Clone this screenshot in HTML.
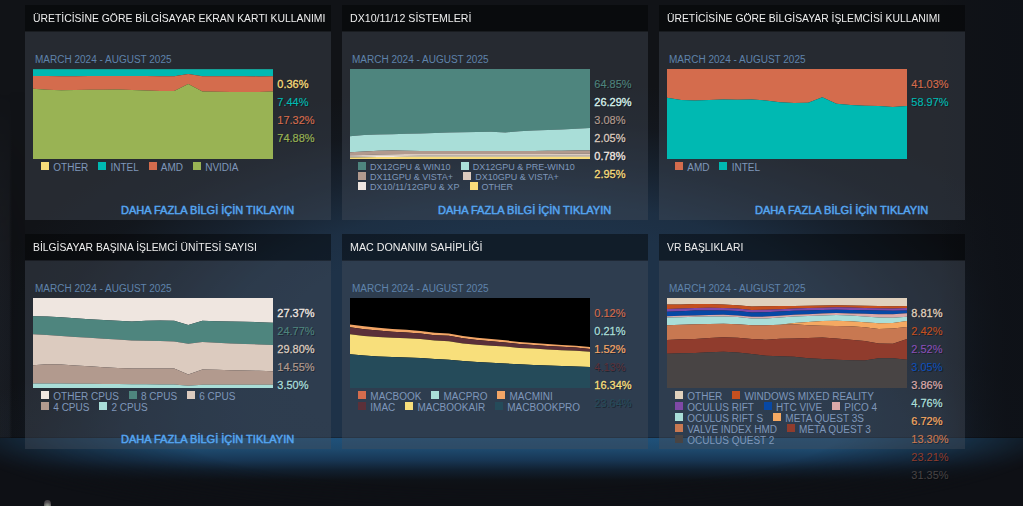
<!DOCTYPE html>
<html lang="tr"><head><meta charset="utf-8"><title>Steam Donanım ve Yazılım Anketi</title>
<style>
html,body{margin:0;padding:0;}
body{width:1023px;height:506px;overflow:hidden;position:relative;background:#0e1015;font-family:"Liberation Sans",sans-serif;}
#bg{position:absolute;left:0;top:0;width:1023px;height:438px;
 background:
  linear-gradient(to right, rgba(14,17,23,0) 940px, rgba(14,17,23,0.55) 972px, rgba(14,17,23,0.9) 1006px),
  radial-gradient(ellipse 570px 125px at 520px 442px, rgba(30,50,72,0.9) 0%, rgba(30,50,72,0.9) 45%, rgba(30,50,72,0.55) 70%, rgba(30,50,72,0.15) 86%, rgba(30,50,72,0) 100%),
  radial-gradient(ellipse 560px 270px at 530px 350px, rgba(30,50,72,1) 0%, rgba(30,50,72,1) 45%, rgba(30,50,72,0.9) 55%, rgba(29,48,70,0.5) 70%, rgba(27,44,64,0.15) 85%, rgba(17,19,23,0) 100%),
  #111317;}
.panel{position:absolute;width:306px;height:215px;}
.ttl{height:26px;background:rgba(0,0,0,0.42);position:relative;overflow:hidden;}
.ttl span{position:absolute;left:8.4px;top:6.4px;font-size:11.5px;line-height:14px;color:#eeeeee;white-space:nowrap;transform-origin:0 50%;}
.body{position:absolute;left:0;top:26px;width:306px;height:189px;background:rgba(70,78,90,0.4);box-shadow:inset 0 1px 0 rgba(0,0,0,0.33);}
.date{position:absolute;left:10px;top:22.5px;font-size:10px;line-height:12px;color:#5f83ab;white-space:nowrap;}
.ch{position:absolute;left:8px;top:38px;display:block;}
.pcts{position:absolute;left:252.3px;top:44.2px;font-size:11px;line-height:18px;text-shadow:1px 1px 0 rgba(0,0,0,0.38);white-space:nowrap;}
.lg{position:absolute;left:16px;top:131px;width:260px;}
.ll{height:11px;white-space:nowrap;display:flex;align-items:flex-start;}
.ll i{display:block;width:8px;height:8px;margin:0 4.3px 0 0;flex:none;}
.ll b{display:block;font-weight:normal;font-size:10px;line-height:11px;color:#7f97ba;margin-right:9.8px;padding-top:0;}
.f9 .ll{height:10px;}
.f9 .ll b{font-size:9px;line-height:10px;margin-right:10.2px;padding-top:0;}
.f9 .ll i{margin-right:4px;}
.more{display:block;text-decoration:none;position:absolute;left:96px;top:173px;font-size:11px;line-height:13px;color:#54a5f0;white-space:nowrap;text-shadow:0 0 1px rgba(80,160,235,0.7);-webkit-text-stroke:0.3px #54a5f0;}
#glow{position:absolute;left:0;top:438px;width:1023px;height:68px;background:#0e1015;box-shadow:0 -1px 0 rgba(0,0,0,0.22);}
#glow:before{content:"";position:absolute;left:0;top:0;width:1023px;height:68px;
 background:linear-gradient(to bottom, rgb(31,81,122) 0px, rgb(30,74,110) 11px, rgb(24,55,85) 22px, rgb(17,32,48) 32px, rgb(14,18,24) 42px, rgb(14,16,21) 48px);
 -webkit-mask-image:radial-gradient(ellipse 560px 100px at 508px -10px, #000 60%, rgba(0,0,0,0.5) 82%, rgba(0,0,0,0) 100%);
 mask-image:radial-gradient(ellipse 560px 100px at 508px -10px, #000 60%, rgba(0,0,0,0.5) 82%, rgba(0,0,0,0) 100%);}
#dot{position:absolute;left:44px;top:499.6px;width:7.4px;height:9px;border-radius:50%;background:radial-gradient(circle at 50% 70%, #9ea699 0, #7d807b 28%, #514d50 58%, #413d40 100%);}
#lstrip{position:absolute;left:0;top:0;width:25px;height:438px;
 background:linear-gradient(to right, rgba(120,130,150,0.075) 0, rgba(120,130,150,0.06) 9px, rgba(0,0,0,0.16) 12px, rgba(0,0,0,0.12) 25px);
 -webkit-mask-image:linear-gradient(to bottom, rgba(0,0,0,0) 90px, #000 250px);mask-image:linear-gradient(to bottom, rgba(0,0,0,0) 90px, #000 250px);}

</style></head>
<body>
<div id="bg"></div><div id="lstrip"></div><div id="glow"></div><div class="panel r0 c0" style="left:25px;top:5px"><div class="ttl"><span style="transform:scaleX(0.9043)">ÜRETİCİSİNE GÖRE BİLGİSAYAR EKRAN KARTI KULLANIMI</span></div><div class="body"><div class="date">MARCH 2024 - AUGUST 2025</div><svg class="ch" width="240" height="90" viewBox="0 0 240 90" preserveAspectRatio="none"><rect width="240" height="90" fill="#20232a"/><polygon fill="#f8dc7a" points="0.00,0.00 14.12,0.00 28.24,0.00 42.35,0.00 56.47,0.00 70.59,0.00 84.71,0.00 98.82,0.00 112.94,0.00 127.06,0.00 141.18,0.00 155.29,0.00 169.41,0.00 183.53,0.00 197.65,0.00 211.76,0.00 225.88,0.00 240.00,0.00 240.00,0.30 225.88,0.30 211.76,0.30 197.65,0.30 183.53,0.30 169.41,0.30 155.29,0.30 141.18,0.30 127.06,0.30 112.94,0.30 98.82,0.30 84.71,0.30 70.59,0.30 56.47,0.30 42.35,0.30 28.24,0.30 14.12,0.30 0.00,0.30"/><polygon fill="#00b9b2" points="0.00,0.30 14.12,0.30 28.24,0.30 42.35,0.30 56.47,0.30 70.59,0.30 84.71,0.30 98.82,0.30 112.94,0.30 127.06,0.30 141.18,0.30 155.29,0.30 169.41,0.30 183.53,0.30 197.65,0.30 211.76,0.30 225.88,0.30 240.00,0.30 240.00,7.30 225.88,7.40 211.76,7.30 197.65,7.30 183.53,7.30 169.41,7.30 155.29,5.00 141.18,7.20 127.06,7.20 112.94,7.00 98.82,7.00 84.71,7.00 70.59,7.00 56.47,7.00 42.35,7.20 28.24,7.20 14.12,7.00 0.00,7.00"/><polygon fill="#d46c4d" points="0.00,7.00 14.12,7.00 28.24,7.20 42.35,7.20 56.47,7.00 70.59,7.00 84.71,7.00 98.82,7.00 112.94,7.00 127.06,7.20 141.18,7.20 155.29,5.00 169.41,7.30 183.53,7.30 197.65,7.30 211.76,7.30 225.88,7.40 240.00,7.30 240.00,22.60 225.88,23.10 211.76,23.10 197.65,23.10 183.53,22.80 169.41,22.50 155.29,15.00 141.18,21.90 127.06,22.00 112.94,21.60 98.82,21.00 84.71,20.50 70.59,20.70 56.47,20.70 42.35,21.10 28.24,21.30 14.12,20.80 0.00,19.70"/><polygon fill="#99b354" points="0.00,19.70 14.12,20.80 28.24,21.30 42.35,21.10 56.47,20.70 70.59,20.70 84.71,20.50 98.82,21.00 112.94,21.60 127.06,22.00 141.18,21.90 155.29,15.00 169.41,22.50 183.53,22.80 197.65,23.10 211.76,23.10 225.88,23.10 240.00,22.60 240.00,90.00 225.88,90.00 211.76,90.00 197.65,90.00 183.53,90.00 169.41,90.00 155.29,90.00 141.18,90.00 127.06,90.00 112.94,90.00 98.82,90.00 84.71,90.00 70.59,90.00 56.47,90.00 42.35,90.00 28.24,90.00 14.12,90.00 0.00,90.00"/></svg><div class="pcts"><div style="color:#f8dc7a;-webkit-text-stroke:0.28px #f8dc7a">0.36%</div><div style="color:#00b9b2;-webkit-text-stroke:0.13px #00b9b2">7.44%</div><div style="color:#d46c4d;-webkit-text-stroke:0.14px #d46c4d">17.32%</div><div style="color:#99b354;-webkit-text-stroke:0.18px #99b354">74.88%</div></div><div class="lg f10"><div class="ll"><i style="background:#f8dc7a"></i><b>OTHER</b><i style="background:#00b9b2"></i><b>INTEL</b><i style="background:#d46c4d"></i><b>AMD</b><i style="background:#99b354"></i><b>NVIDIA</b></div></div><a class="more" href="#">DAHA FAZLA BİLGİ İÇİN TIKLAYIN</a></div></div><div class="panel r0 c1" style="left:342px;top:5px"><div class="ttl"><span style="transform:scaleX(0.9242)">DX10/11/12 SİSTEMLERİ</span></div><div class="body"><div class="date">MARCH 2024 - AUGUST 2025</div><svg class="ch" width="240" height="90" viewBox="0 0 240 90" preserveAspectRatio="none"><rect width="240" height="90" fill="#20232a"/><polygon fill="#4e857e" points="0.00,0.00 14.12,0.00 28.24,0.00 42.35,0.00 56.47,0.00 70.59,0.00 84.71,0.00 98.82,0.00 112.94,0.00 127.06,0.00 141.18,0.00 155.29,0.00 169.41,0.00 183.53,0.00 197.65,0.00 211.76,0.00 225.88,0.00 240.00,0.00 240.00,59.10 225.88,59.80 211.76,60.40 197.65,61.00 183.53,61.60 169.41,62.30 155.29,63.50 141.18,62.70 127.06,62.90 112.94,63.20 98.82,63.60 84.71,64.00 70.59,64.40 56.47,64.80 42.35,65.20 28.24,65.60 14.12,66.00 0.00,67.20"/><polygon fill="#a9ded8" points="0.00,67.20 14.12,66.00 28.24,65.60 42.35,65.20 56.47,64.80 70.59,64.40 84.71,64.00 98.82,63.60 112.94,63.20 127.06,62.90 141.18,62.70 155.29,63.50 169.41,62.30 183.53,61.60 197.65,61.00 211.76,60.40 225.88,59.80 240.00,59.10 240.00,81.50 225.88,81.60 211.76,81.70 197.65,81.80 183.53,81.90 169.41,82.00 155.29,82.00 141.18,82.00 127.06,82.00 112.94,82.00 98.82,82.00 84.71,82.00 70.59,81.90 56.47,81.80 42.35,81.60 28.24,81.80 14.12,82.50 0.00,83.20"/><polygon fill="#b29a8e" points="0.00,83.20 14.12,82.50 28.24,81.80 42.35,81.60 56.47,81.80 70.59,81.90 84.71,82.00 98.82,82.00 112.94,82.00 127.06,82.00 141.18,82.00 155.29,82.00 169.41,82.00 183.53,81.90 197.65,81.80 211.76,81.70 225.88,81.60 240.00,81.50 240.00,84.80 225.88,84.80 211.76,84.80 197.65,84.90 183.53,84.90 169.41,84.90 155.29,84.90 141.18,84.90 127.06,84.90 112.94,84.90 98.82,84.90 84.71,84.90 70.59,84.90 56.47,85.00 42.35,85.20 28.24,85.50 14.12,86.00 0.00,86.30"/><polygon fill="#dccbbf" points="0.00,86.30 14.12,86.00 28.24,85.50 42.35,85.20 56.47,85.00 70.59,84.90 84.71,84.90 98.82,84.90 112.94,84.90 127.06,84.90 141.18,84.90 155.29,84.90 169.41,84.90 183.53,84.90 197.65,84.90 211.76,84.80 225.88,84.80 240.00,84.80 240.00,86.80 225.88,86.80 211.76,86.80 197.65,86.80 183.53,86.80 169.41,86.80 155.29,86.80 141.18,86.80 127.06,86.80 112.94,86.80 98.82,86.80 84.71,86.80 70.59,86.80 56.47,86.90 42.35,87.00 28.24,87.10 14.12,87.30 0.00,87.50"/><polygon fill="#efe6e0" points="0.00,87.50 14.12,87.30 28.24,87.10 42.35,87.00 56.47,86.90 70.59,86.80 84.71,86.80 98.82,86.80 112.94,86.80 127.06,86.80 141.18,86.80 155.29,86.80 169.41,86.80 183.53,86.80 197.65,86.80 211.76,86.80 225.88,86.80 240.00,86.80 240.00,87.70 225.88,87.70 211.76,87.70 197.65,87.70 183.53,87.70 169.41,87.70 155.29,87.70 141.18,87.70 127.06,87.70 112.94,87.70 98.82,87.70 84.71,87.70 70.59,87.70 56.47,87.80 42.35,87.90 28.24,88.00 14.12,88.20 0.00,88.40"/><polygon fill="#f8dc7a" points="0.00,88.40 14.12,88.20 28.24,88.00 42.35,87.90 56.47,87.80 70.59,87.70 84.71,87.70 98.82,87.70 112.94,87.70 127.06,87.70 141.18,87.70 155.29,87.70 169.41,87.70 183.53,87.70 197.65,87.70 211.76,87.70 225.88,87.70 240.00,87.70 240.00,90.00 225.88,90.00 211.76,90.00 197.65,90.00 183.53,90.00 169.41,90.00 155.29,90.00 141.18,90.00 127.06,90.00 112.94,90.00 98.82,90.00 84.71,90.00 70.59,90.00 56.47,90.00 42.35,90.00 28.24,90.00 14.12,90.00 0.00,90.00"/></svg><div class="pcts"><div style="color:#4e857e;-webkit-text-stroke:0.10px #4e857e">64.85%</div><div style="color:#d9f3ef;-webkit-text-stroke:0.31px #d9f3ef">26.29%</div><div style="color:#b29a8e;-webkit-text-stroke:0.18px #b29a8e">3.08%</div><div style="color:#dccbbf;-webkit-text-stroke:0.26px #dccbbf">2.05%</div><div style="color:#efe6e0;-webkit-text-stroke:0.30px #efe6e0">0.78%</div><div style="color:#f8dc7a;-webkit-text-stroke:0.28px #f8dc7a">2.95%</div></div><div class="lg f9"><div class="ll"><i style="background:#4e857e"></i><b>DX12GPU &amp; WIN10</b><i style="background:#a9ded8"></i><b>DX12GPU &amp; PRE-WIN10</b></div><div class="ll"><i style="background:#b29a8e"></i><b>DX11GPU &amp; VISTA+</b><i style="background:#dccbbf"></i><b>DX10GPU &amp; VISTA+</b></div><div class="ll"><i style="background:#efe6e0"></i><b>DX10/11/12GPU &amp; XP</b><i style="background:#f8dc7a"></i><b>OTHER</b></div></div><a class="more" href="#">DAHA FAZLA BİLGİ İÇİN TIKLAYIN</a></div></div><div class="panel r0 c2" style="left:659px;top:5px"><div class="ttl"><span style="transform:scaleX(0.8994)">ÜRETİCİSİNE GÖRE BİLGİSAYAR İŞLEMCİSİ KULLANIMI</span></div><div class="body"><div class="date">MARCH 2024 - AUGUST 2025</div><svg class="ch" width="240" height="90" viewBox="0 0 240 90" preserveAspectRatio="none"><rect width="240" height="90" fill="#20232a"/><polygon fill="#d46c4d" points="0.00,0.00 14.12,0.00 28.24,0.00 42.35,0.00 56.47,0.00 70.59,0.00 84.71,0.00 98.82,0.00 112.94,0.00 127.06,0.00 141.18,0.00 155.29,0.00 169.41,0.00 183.53,0.00 197.65,0.00 211.76,0.00 225.88,0.00 240.00,0.00 240.00,37.10 225.88,37.90 211.76,37.10 197.65,36.70 183.53,36.00 169.41,34.70 155.29,28.30 141.18,33.70 127.06,34.00 112.94,33.20 98.82,31.50 84.71,30.50 70.59,30.80 56.47,30.50 42.35,31.00 28.24,31.50 14.12,31.00 0.00,28.80"/><polygon fill="#00b9b2" points="0.00,28.80 14.12,31.00 28.24,31.50 42.35,31.00 56.47,30.50 70.59,30.80 84.71,30.50 98.82,31.50 112.94,33.20 127.06,34.00 141.18,33.70 155.29,28.30 169.41,34.70 183.53,36.00 197.65,36.70 211.76,37.10 225.88,37.90 240.00,37.10 240.00,90.00 225.88,90.00 211.76,90.00 197.65,90.00 183.53,90.00 169.41,90.00 155.29,90.00 141.18,90.00 127.06,90.00 112.94,90.00 98.82,90.00 84.71,90.00 70.59,90.00 56.47,90.00 42.35,90.00 28.24,90.00 14.12,90.00 0.00,90.00"/></svg><div class="pcts"><div style="color:#d46c4d;-webkit-text-stroke:0.14px #d46c4d">41.03%</div><div style="color:#00b9b2;-webkit-text-stroke:0.13px #00b9b2">58.97%</div></div><div class="lg f10"><div class="ll"><i style="background:#d46c4d"></i><b>AMD</b><i style="background:#00b9b2"></i><b>INTEL</b></div></div><a class="more" href="#">DAHA FAZLA BİLGİ İÇİN TIKLAYIN</a></div></div><div class="panel r1 c0" style="left:25px;top:234px"><div class="ttl"><span style="transform:scaleX(0.9002)">BİLGİSAYAR BAŞINA İŞLEMCİ ÜNİTESİ SAYISI</span></div><div class="body"><div class="date">MARCH 2024 - AUGUST 2025</div><svg class="ch" width="240" height="90" viewBox="0 0 240 90" preserveAspectRatio="none"><rect width="240" height="90" fill="#20232a"/><polygon fill="#efe6e0" points="0.00,0.00 14.12,0.00 28.24,0.00 42.35,0.00 56.47,0.00 70.59,0.00 84.71,0.00 98.82,0.00 112.94,0.00 127.06,0.00 141.18,0.00 155.29,0.00 169.41,0.00 183.53,0.00 197.65,0.00 211.76,0.00 225.88,0.00 240.00,0.00 240.00,24.70 225.88,24.20 211.76,23.70 197.65,23.50 183.53,23.20 169.41,22.70 155.29,27.10 141.18,22.70 127.06,22.50 112.94,22.70 98.82,23.50 84.71,22.70 70.59,22.00 56.47,21.30 42.35,20.30 28.24,19.30 14.12,18.60 0.00,18.30"/><polygon fill="#4e857e" points="0.00,18.30 14.12,18.60 28.24,19.30 42.35,20.30 56.47,21.30 70.59,22.00 84.71,22.70 98.82,23.50 112.94,22.70 127.06,22.50 141.18,22.70 155.29,27.10 169.41,22.70 183.53,23.20 197.65,23.50 211.76,23.70 225.88,24.20 240.00,24.70 240.00,46.90 225.88,46.40 211.76,45.90 197.65,45.50 183.53,44.70 169.41,44.00 155.29,45.70 141.18,43.50 127.06,43.00 112.94,42.80 98.82,42.50 84.71,41.50 70.59,40.80 56.47,39.80 42.35,38.90 28.24,37.90 14.12,37.10 0.00,36.20"/><polygon fill="#dccbbf" points="0.00,36.20 14.12,37.10 28.24,37.90 42.35,38.90 56.47,39.80 70.59,40.80 84.71,41.50 98.82,42.50 112.94,42.80 127.06,43.00 141.18,43.50 155.29,45.70 169.41,44.00 183.53,44.70 197.65,45.50 211.76,45.90 225.88,46.40 240.00,46.90 240.00,73.30 225.88,72.80 211.76,72.60 197.65,72.30 183.53,71.80 169.41,71.40 155.29,76.50 141.18,70.60 127.06,70.40 112.94,70.40 98.82,70.60 84.71,70.10 70.59,69.20 56.47,68.20 42.35,67.40 28.24,66.50 14.12,66.20 0.00,67.20"/><polygon fill="#b29a8e" points="0.00,67.20 14.12,66.20 28.24,66.50 42.35,67.40 56.47,68.20 70.59,69.20 84.71,70.10 98.82,70.60 112.94,70.40 127.06,70.40 141.18,70.60 155.29,76.50 169.41,71.40 183.53,71.80 197.65,72.30 211.76,72.60 225.88,72.80 240.00,73.30 240.00,86.80 225.88,86.80 211.76,86.80 197.65,86.80 183.53,86.80 169.41,86.80 155.29,87.70 141.18,86.50 127.06,86.40 112.94,86.30 98.82,86.20 84.71,86.00 70.59,85.90 56.47,85.80 42.35,85.70 28.24,85.60 14.12,85.50 0.00,85.50"/><polygon fill="#a9ded8" points="0.00,85.50 14.12,85.50 28.24,85.60 42.35,85.70 56.47,85.80 70.59,85.90 84.71,86.00 98.82,86.20 112.94,86.30 127.06,86.40 141.18,86.50 155.29,87.70 169.41,86.80 183.53,86.80 197.65,86.80 211.76,86.80 225.88,86.80 240.00,86.80 240.00,90.00 225.88,90.00 211.76,90.00 197.65,90.00 183.53,90.00 169.41,90.00 155.29,90.00 141.18,90.00 127.06,90.00 112.94,90.00 98.82,90.00 84.71,90.00 70.59,90.00 56.47,90.00 42.35,90.00 28.24,90.00 14.12,90.00 0.00,90.00"/></svg><div class="pcts"><div style="color:#efe6e0;-webkit-text-stroke:0.30px #efe6e0">27.37%</div><div style="color:#4e857e;-webkit-text-stroke:0.10px #4e857e">24.77%</div><div style="color:#dccbbf;-webkit-text-stroke:0.26px #dccbbf">29.80%</div><div style="color:#b29a8e;-webkit-text-stroke:0.18px #b29a8e">14.55%</div><div style="color:#a9ded8;-webkit-text-stroke:0.26px #a9ded8">3.50%</div></div><div class="lg f10"><div class="ll"><i style="background:#efe6e0"></i><b>OTHER CPUS</b><i style="background:#4e857e"></i><b>8 CPUS</b><i style="background:#dccbbf"></i><b>6 CPUS</b></div><div class="ll"><i style="background:#b29a8e"></i><b>4 CPUS</b><i style="background:#a9ded8"></i><b>2 CPUS</b></div></div><a class="more" href="#">DAHA FAZLA BİLGİ İÇİN TIKLAYIN</a></div></div><div class="panel r1 c1" style="left:342px;top:234px"><div class="ttl"><span style="transform:scaleX(0.9298)">MAC DONANIM SAHİPLİĞİ</span></div><div class="body"><div class="date">MARCH 2024 - AUGUST 2025</div><svg class="ch" width="240" height="90" viewBox="0 0 240 90" preserveAspectRatio="none"><rect width="240" height="90" fill="#000000"/><polygon fill="#000000" points="0.00,0.00 14.12,0.00 28.24,0.00 42.35,0.00 56.47,0.00 70.59,0.00 84.71,0.00 98.82,0.00 112.94,0.00 127.06,0.00 141.18,0.00 155.29,0.00 169.41,0.00 183.53,0.00 197.65,0.00 211.76,0.00 225.88,0.00 240.00,0.00 240.00,49.10 225.88,47.70 211.76,46.90 197.65,45.90 183.53,45.00 169.41,44.00 155.29,42.30 141.18,41.00 127.06,39.80 112.94,37.90 98.82,35.40 84.71,34.70 70.59,33.00 56.47,31.80 42.35,31.00 28.24,29.80 14.12,28.30 0.00,26.40"/><polygon fill="#f2a566" points="0.00,26.40 14.12,28.30 28.24,29.80 42.35,31.00 56.47,31.80 70.59,33.00 84.71,34.70 98.82,35.40 112.94,37.90 127.06,39.80 141.18,41.00 155.29,42.30 169.41,44.00 183.53,45.00 197.65,45.90 211.76,46.90 225.88,47.70 240.00,49.10 240.00,50.90 225.88,49.56 211.76,48.83 197.65,47.89 183.53,47.06 169.41,46.12 155.29,44.49 141.18,43.25 127.06,42.12 112.94,40.28 98.82,37.85 84.71,37.21 70.59,35.58 56.47,34.44 42.35,33.71 28.24,32.57 14.12,31.14 0.00,29.30"/><polygon fill="#5b3039" points="0.00,29.30 14.12,31.14 28.24,32.57 42.35,33.71 56.47,34.44 70.59,35.58 84.71,37.21 98.82,37.85 112.94,40.28 127.06,42.12 141.18,43.25 155.29,44.49 169.41,46.12 183.53,47.06 197.65,47.89 211.76,48.83 225.88,49.56 240.00,50.90 240.00,53.80 225.88,52.80 211.76,52.30 197.65,51.60 183.53,50.60 169.41,49.90 155.29,48.60 141.18,47.70 127.06,46.70 112.94,45.50 98.82,43.30 84.71,42.50 70.59,41.00 56.47,40.30 42.35,39.80 28.24,39.10 14.12,38.10 0.00,36.20"/><polygon fill="#f8df7b" points="0.00,36.20 14.12,38.10 28.24,39.10 42.35,39.80 56.47,40.30 70.59,41.00 84.71,42.50 98.82,43.30 112.94,45.50 127.06,46.70 141.18,47.70 155.29,48.60 169.41,49.90 183.53,50.60 197.65,51.60 211.76,52.30 225.88,52.80 240.00,53.80 240.00,68.90 225.88,68.40 211.76,67.90 197.65,67.40 183.53,67.00 169.41,66.20 155.29,65.50 141.18,64.80 127.06,64.00 112.94,63.00 98.82,61.80 84.71,61.10 70.59,60.10 56.47,59.40 42.35,59.10 28.24,58.40 14.12,57.40 0.00,56.20"/><polygon fill="#254b5a" points="0.00,56.20 14.12,57.40 28.24,58.40 42.35,59.10 56.47,59.40 70.59,60.10 84.71,61.10 98.82,61.80 112.94,63.00 127.06,64.00 141.18,64.80 155.29,65.50 169.41,66.20 183.53,67.00 197.65,67.40 211.76,67.90 225.88,68.40 240.00,68.90 240.00,90.00 225.88,90.00 211.76,90.00 197.65,90.00 183.53,90.00 169.41,90.00 155.29,90.00 141.18,90.00 127.06,90.00 112.94,90.00 98.82,90.00 84.71,90.00 70.59,90.00 56.47,90.00 42.35,90.00 28.24,90.00 14.12,90.00 0.00,90.00"/></svg><div class="pcts"><div style="color:#d46c4d;-webkit-text-stroke:0.14px #d46c4d">0.12%</div><div style="color:#a9ded8;-webkit-text-stroke:0.26px #a9ded8">0.21%</div><div style="color:#f2a566;-webkit-text-stroke:0.22px #f2a566">1.52%</div><div style="color:#5b3039;-webkit-text-stroke:0.01px #5b3039">4.13%</div><div style="color:#f8df7b;-webkit-text-stroke:0.28px #f8df7b">16.34%</div><div style="color:#254b5a;-webkit-text-stroke:0.02px #254b5a">23.64%</div></div><div class="lg f10"><div class="ll"><i style="background:#d46c4d"></i><b>MACBOOK</b><i style="background:#a9ded8"></i><b>MACPRO</b><i style="background:#f2a566"></i><b>MACMINI</b></div><div class="ll"><i style="background:#5b3039"></i><b>IMAC</b><i style="background:#f8df7b"></i><b>MACBOOKAIR</b><i style="background:#254b5a"></i><b>MACBOOKPRO</b></div></div></div></div><div class="panel r1 c2" style="left:659px;top:234px"><div class="ttl"><span style="transform:scaleX(0.8975)">VR BAŞLIKLARI</span></div><div class="body"><div class="date">MARCH 2024 - AUGUST 2025</div><svg class="ch" width="240" height="90" viewBox="0 0 240 90" preserveAspectRatio="none"><rect width="240" height="90" fill="#20232a"/><polygon fill="#e0d1bd" points="0.00,0.00 14.12,0.00 28.24,0.00 42.35,0.00 56.47,0.00 70.59,0.00 84.71,0.00 98.82,0.00 112.94,0.00 127.06,0.00 141.18,0.00 155.29,0.00 169.41,0.00 183.53,0.00 197.65,0.00 211.76,0.00 225.88,0.00 240.00,0.00 240.00,8.10 225.88,8.30 211.76,8.10 197.65,7.70 183.53,7.50 169.41,7.30 155.29,7.50 141.18,7.70 127.06,7.90 112.94,7.90 98.82,8.30 84.71,8.50 70.59,7.30 56.47,6.50 42.35,6.10 28.24,6.10 14.12,6.50 0.00,6.50"/><polygon fill="#c5501f" points="0.00,6.50 14.12,6.50 28.24,6.10 42.35,6.10 56.47,6.50 70.59,7.30 84.71,8.50 98.82,8.30 112.94,7.90 127.06,7.90 141.18,7.70 155.29,7.50 169.41,7.30 183.53,7.50 197.65,7.70 211.76,8.10 225.88,8.30 240.00,8.10 240.00,10.10 225.88,10.50 211.76,10.30 197.65,9.90 183.53,9.50 169.41,9.30 155.29,9.70 141.18,10.10 127.06,10.50 112.94,11.30 98.82,11.70 84.71,11.90 70.59,10.50 56.47,9.90 42.35,9.70 28.24,9.90 14.12,10.50 0.00,10.90"/><polygon fill="#7f49a6" points="0.00,10.90 14.12,10.50 28.24,9.90 42.35,9.70 56.47,9.90 70.59,10.50 84.71,11.90 98.82,11.70 112.94,11.30 127.06,10.50 141.18,10.10 155.29,9.70 169.41,9.30 183.53,9.50 197.65,9.90 211.76,10.30 225.88,10.50 240.00,10.10 240.00,12.40 225.88,12.80 211.76,12.60 197.65,12.30 183.53,11.90 169.41,11.70 155.29,12.10 141.18,12.50 127.06,12.80 112.94,13.60 98.82,14.20 84.71,14.40 70.59,13.00 56.47,12.50 42.35,12.50 28.24,12.60 14.12,13.20 0.00,13.80"/><polygon fill="#0748a5" points="0.00,13.80 14.12,13.20 28.24,12.60 42.35,12.50 56.47,12.50 70.59,13.00 84.71,14.40 98.82,14.20 112.94,13.60 127.06,12.80 141.18,12.50 155.29,12.10 169.41,11.70 183.53,11.90 197.65,12.30 211.76,12.60 225.88,12.80 240.00,12.40 240.00,15.20 225.88,16.20 211.76,16.20 197.65,15.80 183.53,15.40 169.41,15.00 155.29,15.60 141.18,16.20 127.06,16.80 112.94,17.80 98.82,18.60 84.71,18.80 70.59,17.40 56.47,16.80 42.35,17.00 28.24,17.40 14.12,17.80 0.00,18.20"/><polygon fill="#dba9a9" points="0.00,18.20 14.12,17.80 28.24,17.40 42.35,17.00 56.47,16.80 70.59,17.40 84.71,18.80 98.82,18.60 112.94,17.80 127.06,16.80 141.18,16.20 155.29,15.60 169.41,15.00 183.53,15.40 197.65,15.80 211.76,16.20 225.88,16.20 240.00,15.20 240.00,18.70 225.88,19.80 211.76,19.60 197.65,18.60 183.53,17.60 169.41,17.00 155.29,17.40 141.18,18.00 127.06,18.60 112.94,19.60 98.82,20.40 84.71,20.40 70.59,19.00 56.47,18.40 42.35,18.40 28.24,18.80 14.12,19.20 0.00,19.60"/><polygon fill="#a9ded8" points="0.00,19.60 14.12,19.20 28.24,18.80 42.35,18.40 56.47,18.40 70.59,19.00 84.71,20.40 98.82,20.40 112.94,19.60 127.06,18.60 141.18,18.00 155.29,17.40 169.41,17.00 183.53,17.60 197.65,18.60 211.76,19.60 225.88,19.80 240.00,18.70 240.00,23.00 225.88,25.10 211.76,25.30 197.65,24.30 183.53,23.30 169.41,22.70 155.29,23.10 141.18,23.90 127.06,25.10 112.94,26.70 98.82,27.30 84.71,27.30 70.59,26.30 56.47,25.70 42.35,25.90 28.24,26.30 14.12,26.70 0.00,27.30"/><polygon fill="#f5a962" points="0.00,27.30 14.12,26.70 28.24,26.30 42.35,25.90 56.47,25.70 70.59,26.30 84.71,27.30 98.82,27.30 112.94,26.70 127.06,25.10 141.18,23.90 155.29,23.10 169.41,22.70 183.53,23.30 197.65,24.30 211.76,25.30 225.88,25.10 240.00,23.00 240.00,29.05 225.88,30.60 211.76,31.00 197.65,29.20 183.53,28.30 169.41,27.90 155.29,27.70 141.18,27.30 127.06,26.30 112.94,26.70 98.82,27.30 84.71,27.30 70.59,26.30 56.47,25.70 42.35,25.90 28.24,26.30 14.12,26.70 0.00,27.30"/><polygon fill="#c87851" points="0.00,27.30 14.12,26.70 28.24,26.30 42.35,25.90 56.47,25.70 70.59,26.30 84.71,27.30 98.82,27.30 112.94,26.70 127.06,26.30 141.18,27.30 155.29,27.70 169.41,27.90 183.53,28.30 197.65,29.20 211.76,31.00 225.88,30.60 240.00,29.05 240.00,41.00 225.88,45.70 211.76,45.50 197.65,43.10 183.53,41.70 169.41,40.50 155.29,39.50 141.18,39.90 127.06,40.50 112.94,40.70 98.82,41.70 84.71,40.90 70.59,39.70 56.47,39.30 42.35,40.10 28.24,40.90 14.12,41.30 0.00,41.90"/><polygon fill="#903c2d" points="0.00,41.90 14.12,41.30 28.24,40.90 42.35,40.10 56.47,39.30 70.59,39.70 84.71,40.90 98.82,41.70 112.94,40.70 127.06,40.50 141.18,39.90 155.29,39.50 169.41,40.50 183.53,41.70 197.65,43.10 211.76,45.50 225.88,45.70 240.00,41.00 240.00,61.80 225.88,60.30 211.76,60.30 197.65,62.60 183.53,62.30 169.41,61.70 155.29,60.90 141.18,60.30 127.06,58.70 112.94,58.30 98.82,57.70 84.71,56.10 70.59,54.50 56.47,53.80 42.35,54.20 28.24,54.90 14.12,55.30 0.00,55.70"/><polygon fill="#484444" points="0.00,55.70 14.12,55.30 28.24,54.90 42.35,54.20 56.47,53.80 70.59,54.50 84.71,56.10 98.82,57.70 112.94,58.30 127.06,58.70 141.18,60.30 155.29,60.90 169.41,61.70 183.53,62.30 197.65,62.60 211.76,60.30 225.88,60.30 240.00,61.80 240.00,90.00 225.88,90.00 211.76,90.00 197.65,90.00 183.53,90.00 169.41,90.00 155.29,90.00 141.18,90.00 127.06,90.00 112.94,90.00 98.82,90.00 84.71,90.00 70.59,90.00 56.47,90.00 42.35,90.00 28.24,90.00 14.12,90.00 0.00,90.00"/></svg><div class="pcts"><div style="color:#e0d1bd;-webkit-text-stroke:0.27px #e0d1bd">8.81%</div><div style="color:#c5501f;-webkit-text-stroke:0.09px #c5501f">2.42%</div><div style="color:#8a4fb8;-webkit-text-stroke:0.09px #8a4fb8">2.52%</div><div style="color:#0c50bd;-webkit-text-stroke:0.03px #0c50bd">3.05%</div><div style="color:#dba9a9;-webkit-text-stroke:0.22px #dba9a9">3.86%</div><div style="color:#a9ded8;-webkit-text-stroke:0.26px #a9ded8">4.76%</div><div style="color:#f5a962;-webkit-text-stroke:0.22px #f5a962">6.72%</div><div style="color:#c87851;-webkit-text-stroke:0.14px #c87851">13.30%</div><div style="color:#903c2d;-webkit-text-stroke:0.05px #903c2d">23.21%</div><div style="color:#484444;-webkit-text-stroke:0.02px #484444">31.35%</div></div><div class="lg f10"><div class="ll"><i style="background:#e0d1bd"></i><b>OTHER</b><i style="background:#c5501f"></i><b>WINDOWS MIXED REALITY</b></div><div class="ll"><i style="background:#7f49a6"></i><b>OCULUS RIFT</b><i style="background:#0748a5"></i><b>HTC VIVE</b><i style="background:#dba9a9"></i><b>PICO 4</b></div><div class="ll"><i style="background:#a9ded8"></i><b>OCULUS RIFT S</b><i style="background:#f5a962"></i><b>META QUEST 3S</b></div><div class="ll"><i style="background:#c87851"></i><b>VALVE INDEX HMD</b><i style="background:#903c2d"></i><b>META QUEST 3</b></div><div class="ll"><i style="background:#484444"></i><b>OCULUS QUEST 2</b></div></div></div></div><div id="dot"></div>
</body></html>
